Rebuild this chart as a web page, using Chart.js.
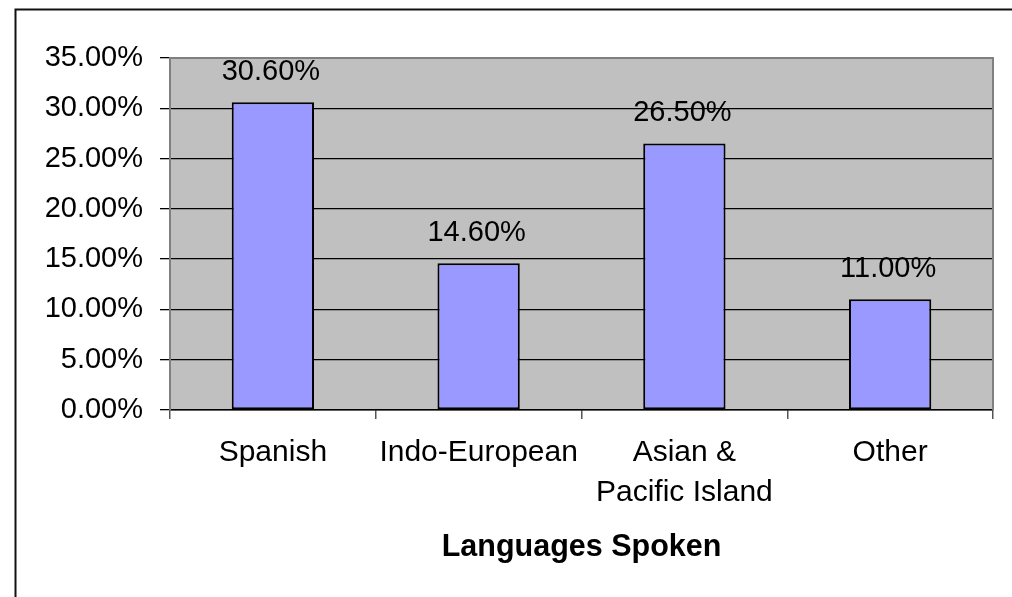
<!DOCTYPE html>
<html>
<head>
<meta charset="utf-8">
<script src="https://cdn.jsdelivr.net/npm/chart.js@4/dist/chart.umd.min.js"></script>
<style>
  html, body { margin: 0; padding: 0; background: #fff; }
  #wrap { position: relative; width: 1012px; height: 597px; }
</style>
</head>
<body>
<div id="wrap"><canvas id="c" width="1012" height="597"></canvas></div>
<script>
const categories = [["Spanish"], ["Indo-European"], ["Asian &", "Pacific Island"], ["Other"]];
const shares = [30.6, 14.6, 26.5, 11.0];
const yTicks = [0, 5, 10, 15, 20, 25, 30, 35];
const axisTitle = "Languages Spoken";

const FONT = '"Liberation Sans", Arial, sans-serif';

const framePlugin = {
  id: 'frame',
  beforeDraw(chart) {
    const { ctx, chartArea: a } = chart;
    ctx.save();
    ctx.fillStyle = '#C0C0C0';
    ctx.fillRect(a.left, a.top, a.right - a.left, a.bottom - a.top);
    ctx.restore();
  },
  beforeDatasetsDraw(chart) {
    const { ctx, chartArea: a } = chart;
    ctx.save();
    ctx.strokeStyle = '#808080';
    ctx.lineWidth = 2;
    ctx.beginPath();
    ctx.moveTo(a.left, a.top);
    ctx.lineTo(a.right, a.top);
    ctx.lineTo(a.right, a.bottom);
    ctx.stroke();
    ctx.restore();
  },
  afterDraw(chart) {
    const { ctx, width, height } = chart;
    ctx.save();
    ctx.strokeStyle = '#111';
    ctx.lineWidth = 2;
    ctx.beginPath();
    ctx.moveTo(15.5, height);
    ctx.lineTo(15.5, 9.5);
    ctx.lineTo(width, 9.5);
    ctx.stroke();
    ctx.restore();
  }
};

const labelPlugin = {
  id: 'valueLabels',
  afterDatasetsDraw(chart) {
    const { ctx } = chart;
    const meta = chart.getDatasetMeta(0);
    ctx.save();
    ctx.font = '29px ' + FONT;
    ctx.fillStyle = '#000';
    ctx.textAlign = 'center';
    ctx.textBaseline = 'alphabetic';
    meta.data.forEach((bar, i) => {
      ctx.fillText(shares[i].toFixed(2) + '%', bar.x - 2, bar.y - 22.5);
    });
    ctx.restore();
  }
};

new Chart(document.getElementById('c'), {
  type: 'bar',
  data: {
    labels: categories,
    datasets: [{
      data: shares,
      backgroundColor: '#9999FF',
      borderColor: '#000',
      borderWidth: 2,
      borderSkipped: false,
      barPercentage: 0.4,
      categoryPercentage: 1.0
    }]
  },
  options: {
    responsive: false,
    animation: false,
    devicePixelRatio: 1,
    layout: { padding: { left: 0, top: 58, right: 19, bottom: 0 } },
    plugins: { legend: { display: false }, tooltip: { enabled: false } },
    scales: {
      x: {
        grid: {
          display: true,
          offset: true,
          drawOnChartArea: false,
          tickLength: 9,
          color: '#555',
          tickColor: '#555',
          lineWidth: 1.5
        },
        border: { color: '#000', width: 1.5 },
        ticks: {
          color: '#000',
          font: { family: FONT, size: 30, lineHeight: 1.35 },
          padding: 13,
          maxRotation: 0,
          autoSkip: false
        },
        title: {
          display: true,
          text: axisTitle,
          color: '#000',
          font: { family: FONT, size: 30.5, weight: 'bold', lineHeight: 1.2 },
          padding: { top: 0, bottom: 31 }
        },
        afterFit(scale) { scale.height = 597 - 410; }
      },
      y: {
        min: 0,
        max: 35,
        afterBuildTicks(scale) { scale.ticks = yTicks.map(v => ({ value: v })); },
        grid: {
          color: (c) => (c.tick && c.tick.value === 35) ? '#808080' : '#000',
          tickColor: '#000',
          tickLength: 10,
          lineWidth: 1.3
        },
        border: { color: '#808080', width: 2 },
        ticks: {
          color: '#000',
          font: { family: FONT, size: 29 },
          padding: 17,
          callback: (v) => Number(v).toFixed(2) + '%'
        },
        afterFit(scale) { scale.width = 170; }
      }
    }
  },
  plugins: [framePlugin, labelPlugin]
});
</script>
</body>
</html>
